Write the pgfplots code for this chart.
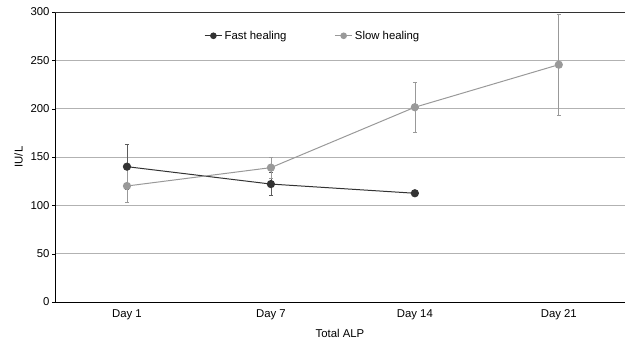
\documentclass[border=0pt]{standalone}
\usepackage{pgfplots}
\pgfplotsset{compat=1.18}
\usepackage{fontspec}
\setmainfont{Liberation Sans}
\definecolor{fastc}{HTML}{333333}
\definecolor{slowc}{HTML}{999999}
\begin{document}
\begin{tikzpicture}[x=1bp,y=1bp]
\begin{axis}[
  at={(0,0)}, anchor=south west,
  scale only axis, width=570bp, height=290bp,
  xmin=-0.5, xmax=3.46, ymin=0, ymax=300,
  /pgf/number format/assume math mode=true,
  xtick={0,1,2,3}, xticklabels={Day 1,Day 7,Day 14,Day 21},
  extra x ticks={0.5,1.5,2.5}, extra x tick labels={},
  extra x tick style={tick style={draw=black}},
  ytick={0,50,...,300},
  ymajorgrids, grid style={gray!60, line width=0.6pt},
  major tick length=3pt,
  xtick style={draw=none},
  ytick style={black}, tick align=outside,
  y tick label style={font=\fontsize{11.4}{13}\selectfont, xshift=1pt},
  x tick label style={font=\fontsize{11.4}{13}\selectfont, yshift=-1pt},
  axis x line*=bottom, axis y line*=left,
  axis line style={line width=0.9pt, -},
  xlabel={Total ALP}, ylabel={IU/L},
  xlabel style={font=\fontsize{11.4}{13}\selectfont, yshift=3pt},
  ylabel style={font=\fontsize{11.4}{13}\selectfont, yshift=1pt},
  legend style={draw=none, fill=none, at={(0.256,0.918)}, anchor=west, legend columns=2,
    font=\fontsize{11.4}{13}\selectfont, /tikz/every even column/.append style={column sep=46pt}},
  legend image code/.code={\draw[#1, mark=none] (0cm,0cm) -- (0.62cm,0cm); \fill[#1] (0.31cm,0cm) circle (2.8bp);},
  legend cell align=left,
  clip=false,
]
\addplot[fastc, line width=1pt, mark=*, mark size=3.6pt,
  error bars/.cd, y dir=both, y explicit, error bar style={line width=0.7pt, fastc!80}, error mark options={rotate=90, mark size=2pt, line width=0.7pt}]
  coordinates {(0,140) +- (0,23) (1,122) +- (0,12) (2,112.5) +- (0,2)};
\addlegendentry{Fast healing}
\addplot[slowc, line width=1pt, mark=*, mark size=3.6pt,
  error bars/.cd, y dir=both, y explicit, error bar style={line width=0.7pt, slowc}, error mark options={rotate=90, mark size=2pt, line width=0.7pt}]
  coordinates {(0,120) +- (0,17) (1,139) +- (0,11) (2,201.5) +- (0,26) (3,245.5) +- (0,52)};
\addlegendentry{Slow healing}
\draw[line width=0.9pt, fastc] (rel axis cs:0,1) -- (rel axis cs:1,1);
\end{axis}
\pgfresetboundingbox
\path (-55,-41) rectangle (570,302);
\end{tikzpicture}
\end{document}
